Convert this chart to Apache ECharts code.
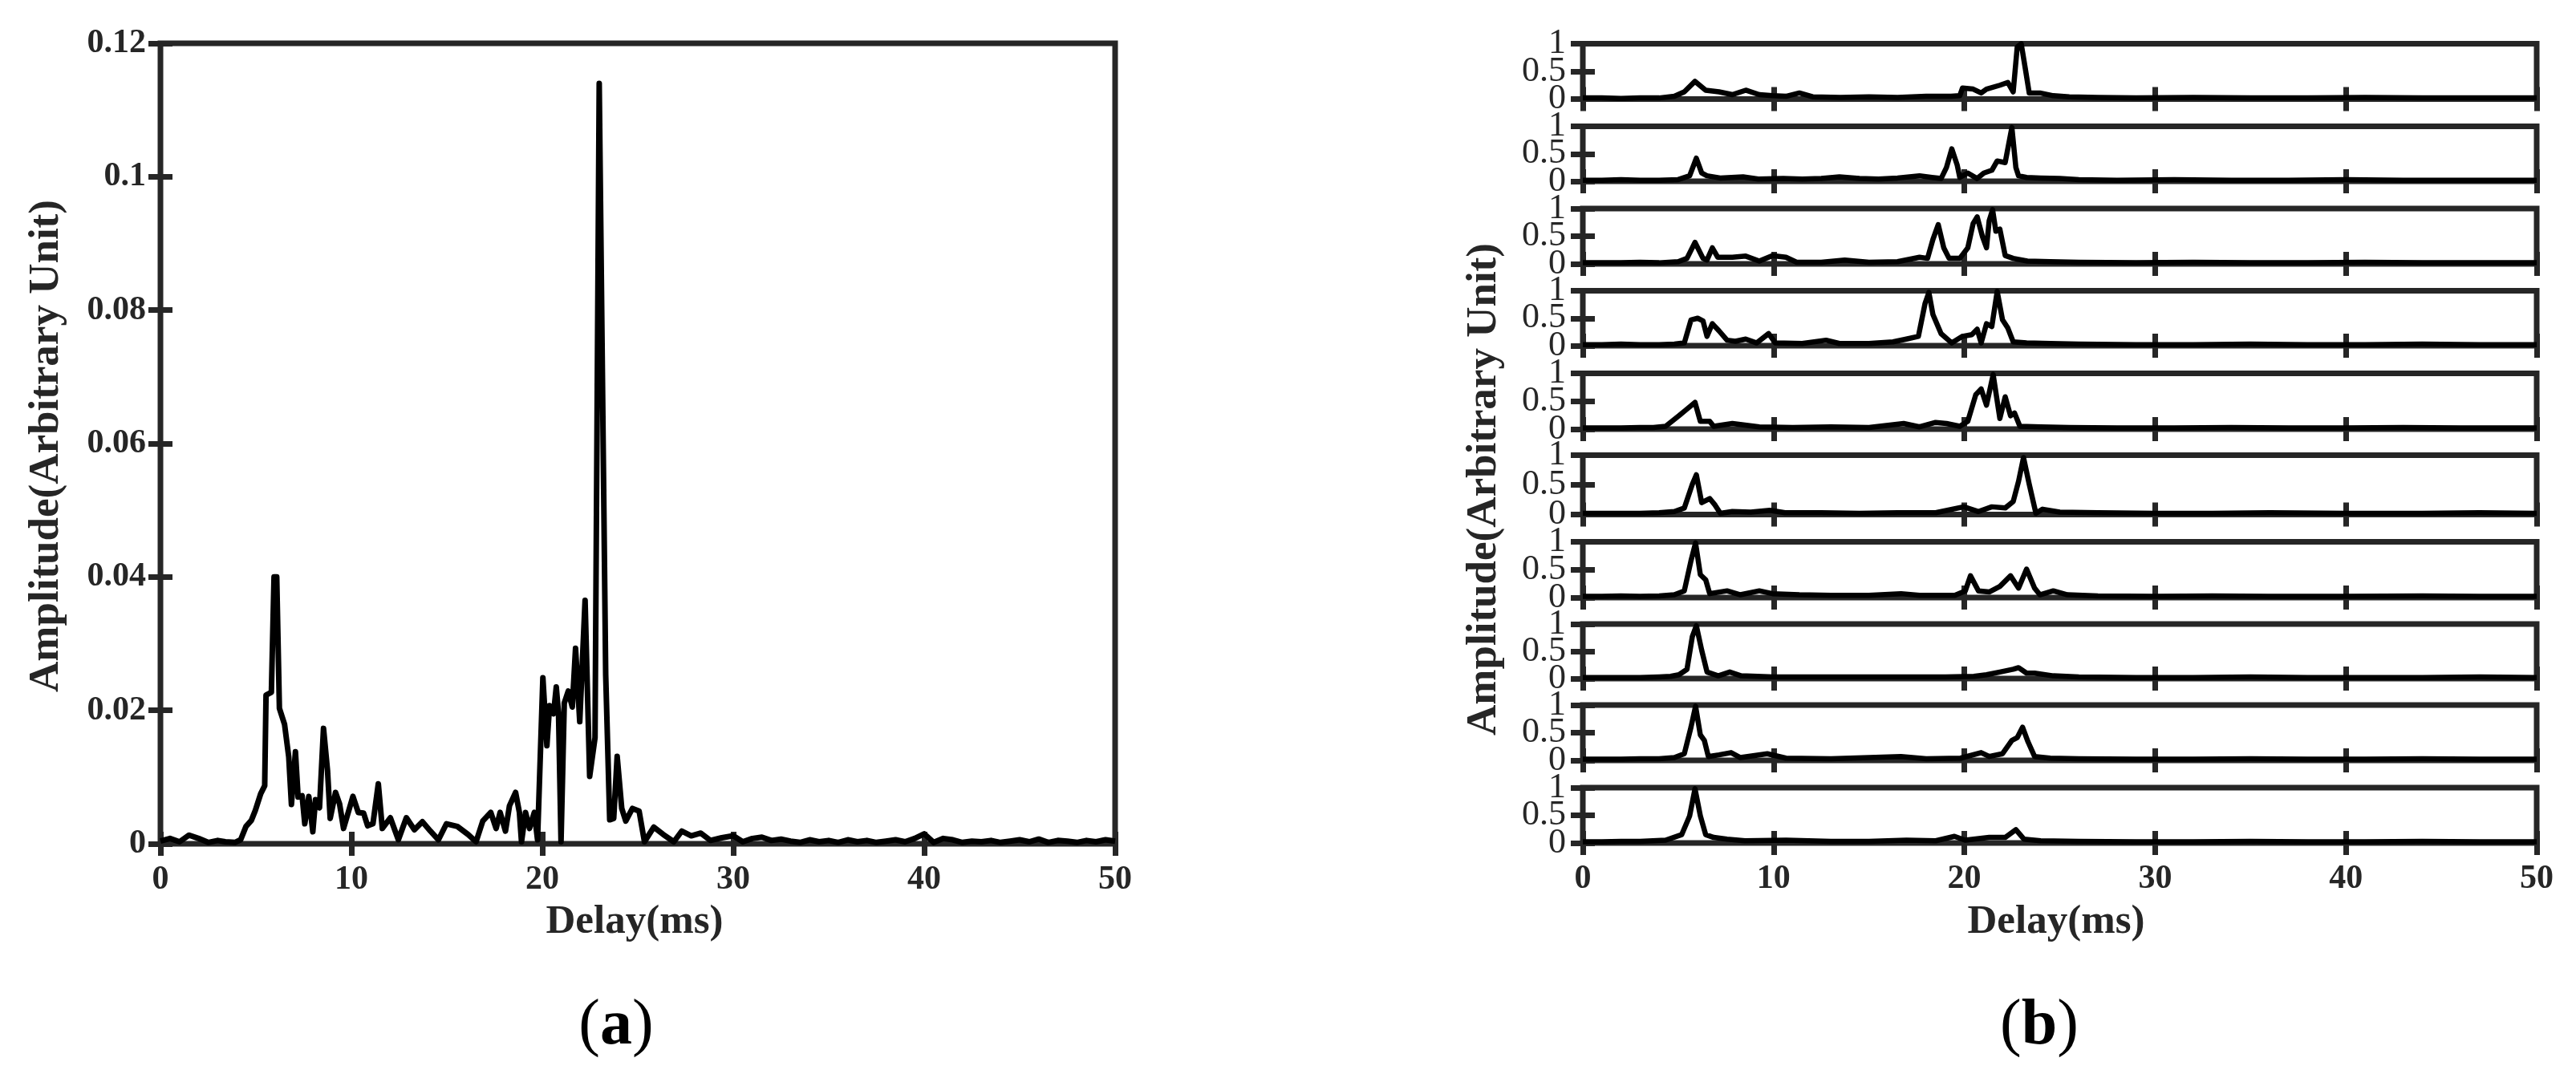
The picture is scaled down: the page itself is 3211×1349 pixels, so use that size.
<!DOCTYPE html>
<html>
<head>
<meta charset="utf-8">
<script src="https://cdn.jsdelivr.net/npm/echarts@6/dist/echarts.min.js"></script>
<style>
html,body{margin:0;padding:0;background:#fff;}
#chart{width:3211px;height:1349px;}
</style>
</head>
<body>
<div id="chart"></div>
<script>
// ---------- DATA ----------
// (a) single delay profile: [delay ms, amplitude]
const profileA = [
[0,0.0004],[0.5,0.0008],[1.0,0.0003],[1.5,0.0013],[2.0,0.0008],[2.5,0.0002],[3.0,0.0005],[3.4,0.0003],[3.9,0.0002],[4.2,0.0006],
[4.48,0.0026],[4.76,0.0035],[4.97,0.005],[5.25,0.0075],[5.46,0.0087],[5.53,0.0223],[5.81,0.0227],[5.95,0.040],[6.09,0.040],[6.23,0.0203],
[6.5,0.0179],[6.72,0.013],[6.86,0.0059],[7.07,0.0138],[7.21,0.007],[7.42,0.0072],[7.56,0.003],[7.77,0.0071],[7.98,0.0018],[8.12,0.0066],
[8.33,0.0054],[8.54,0.0173],[8.75,0.011],[8.89,0.0038],[9.17,0.0077],[9.38,0.006],[9.59,0.0023],[10.08,0.0071],[10.36,0.0047],[10.64,0.0046],
[10.85,0.0027],[11.13,0.003],[11.41,0.009],[11.62,0.0023],[12.04,0.0039],[12.46,0.0006],[12.88,0.0039],[13.3,0.0021],[13.72,0.0033],[14.14,0.0019],
[14.56,0.0006],[14.98,0.003],[15.55,0.0026],[16.11,0.0014],[16.53,0.0003],[16.88,0.0034],[17.3,0.0047],[17.58,0.0023],[17.79,0.0047],[18.07,0.0019],
[18.28,0.0057],[18.6,0.0077],[18.8,0.0047],[18.91,0.0003],[19.12,0.0047],[19.33,0.0023],[19.58,0.0047],[19.75,0.0006],[20.03,0.0249],[20.24,0.0147],
[20.38,0.0207],[20.59,0.0195],[20.73,0.0235],[20.85,0.0195],[20.98,0.0003],[21.15,0.0211],[21.36,0.0229],[21.57,0.0205],[21.74,0.0293],[21.96,0.0183],
[22.24,0.0365],[22.48,0.0101],[22.76,0.0159],[22.98,0.114],[23.32,0.0253],[23.53,0.0036],[23.74,0.0038],[23.92,0.0131],[24.16,0.0053],[24.37,0.0034],
[24.72,0.0053],[25.07,0.0049],[25.35,0.0003],[25.84,0.0025],[26.33,0.0014],[26.89,0.0003],[27.3,0.0019],[27.8,0.0012],[28.3,0.0016],[28.8,0.0005],
[29.4,0.0009],[30.0,0.0012],[30.5,0.0003],[31.0,0.0008],[31.5,0.0010],[32.0,0.0005],[32.5,0.0007],[33.0,0.0004],[33.5,0.0002],[34.0,0.0006],
[34.5,0.0003],[35.0,0.0005],[35.5,0.0002],[36.0,0.0006],[36.5,0.0003],[37.0,0.0005],[37.5,0.0002],[38.0,0.0004],[38.5,0.0006],[39.0,0.0003],
[39.5,0.0008],[40.0,0.0015],[40.5,0.0002],[41.0,0.0008],[41.5,0.0006],[42.0,0.0002],[42.5,0.0004],[43.0,0.0003],[43.5,0.0005],[44.0,0.0002],
[44.5,0.0004],[45.0,0.0006],[45.5,0.0003],[46.0,0.0007],[46.5,0.0002],[47.0,0.0005],[47.5,0.0004],[48.0,0.0002],[48.5,0.0005],[49.0,0.0003],
[49.5,0.0006],[50.0,0.0004]
];

// (b) ten normalised delay profiles, top to bottom
const traceB1 = [[0,0.02],[1,0.02],[2,0.01],[3,0.02],[4,0.02],[4.8,0.05],[5.32,0.13],[5.88,0.32],[6.44,0.16],[7.14,0.13],[7.84,0.08],[8.54,0.16],[9.25,0.08],[9.94,0.06],[10.65,0.05],[11.35,0.11],[12.05,0.04],[13.5,0.03],[15,0.04],[16.5,0.03],[18,0.05],[19.3,0.05],[19.76,0.06],[19.9,0.2],[20.46,0.18],[20.88,0.11],[21.16,0.18],[21.86,0.25],[22.28,0.3],[22.56,0.13],[22.77,0.94],[22.98,1.0],[23.19,0.56],[23.4,0.11],[23.96,0.11],[24.66,0.06],[25.5,0.04],[27,0.03],[29,0.02],[32,0.03],[35,0.02],[38,0.02],[41,0.03],[44,0.02],[47,0.02],[50,0.02]];
const traceB2 = [[0,0.02],[1,0.02],[2,0.03],[3,0.02],[4,0.02],[5,0.03],[5.6,0.1],[5.95,0.42],[6.23,0.15],[6.5,0.1],[7.2,0.06],[8.4,0.08],[9.2,0.04],[10.5,0.05],[11.5,0.04],[12.5,0.05],[13.45,0.08],[14.5,0.05],[15.5,0.04],[16.5,0.06],[17.65,0.1],[18.3,0.07],[18.78,0.05],[19.06,0.25],[19.34,0.59],[19.62,0.3],[19.76,0.07],[20.18,0.15],[20.67,0.05],[21.02,0.15],[21.44,0.2],[21.72,0.37],[22.14,0.34],[22.49,0.98],[22.7,0.25],[22.84,0.1],[23.26,0.07],[24,0.06],[25,0.05],[26,0.03],[28,0.02],[31,0.03],[34,0.02],[37,0.02],[40,0.03],[43,0.02],[46,0.02],[50,0.02]];
const traceB3 = [[0,0.02],[1,0.02],[2,0.02],[3,0.03],[4,0.02],[5,0.04],[5.46,0.1],[5.88,0.39],[6.3,0.1],[6.51,0.07],[6.79,0.29],[7.07,0.12],[7.84,0.12],[8.54,0.14],[9.25,0.05],[9.94,0.15],[10.65,0.12],[11.21,0.03],[12.5,0.03],[13.73,0.07],[15,0.03],[16.5,0.04],[17.65,0.12],[18.07,0.1],[18.35,0.44],[18.63,0.71],[18.92,0.29],[19.2,0.1],[19.76,0.1],[20.18,0.29],[20.46,0.73],[20.67,0.85],[20.95,0.49],[21.16,0.29],[21.3,0.78],[21.48,0.98],[21.65,0.59],[21.86,0.63],[22.14,0.15],[22.56,0.1],[23.3,0.05],[24.5,0.04],[26,0.03],[29,0.02],[32,0.03],[35,0.02],[38,0.02],[41,0.03],[44,0.02],[47,0.02],[50,0.02]];
const traceB4 = [[0,0.02],[1,0.02],[2,0.03],[3,0.02],[4,0.02],[4.8,0.03],[5.32,0.05],[5.67,0.47],[6.02,0.5],[6.3,0.45],[6.51,0.17],[6.79,0.4],[7.14,0.27],[7.56,0.1],[8.0,0.08],[8.54,0.12],[9.11,0.05],[9.74,0.22],[10.09,0.05],[11.5,0.04],[12.75,0.1],[13.45,0.04],[15,0.04],[16.26,0.07],[16.96,0.12],[17.59,0.17],[17.94,0.77],[18.14,0.97],[18.35,0.57],[18.78,0.22],[19.34,0.05],[19.9,0.17],[20.39,0.2],[20.67,0.3],[20.88,0.05],[21.16,0.4],[21.44,0.35],[21.72,0.99],[22.0,0.47],[22.28,0.32],[22.56,0.07],[23.26,0.05],[24.5,0.04],[26,0.03],[29,0.02],[32,0.02],[35,0.03],[38,0.02],[41,0.02],[44,0.03],[47,0.02],[50,0.02]];
const traceB5 = [[0,0.02],[1,0.02],[2,0.02],[3,0.03],[3.7,0.03],[4.34,0.05],[5.04,0.24],[5.39,0.34],[5.88,0.48],[6.16,0.14],[6.44,0.14],[6.65,0.14],[6.86,0.05],[7.84,0.1],[9.25,0.04],[11,0.03],[13,0.04],[15,0.03],[16.82,0.1],[17.65,0.04],[18.49,0.12],[19.06,0.1],[19.76,0.05],[20.18,0.14],[20.6,0.62],[20.88,0.72],[21.16,0.43],[21.51,0.98],[21.86,0.19],[22.14,0.58],[22.42,0.24],[22.63,0.29],[22.91,0.05],[24,0.04],[25.5,0.03],[28,0.02],[31,0.02],[34,0.03],[37,0.02],[40,0.02],[43,0.03],[46,0.02],[50,0.02]];
const traceB6 = [[0,0.02],[1,0.02],[2,0.02],[3,0.02],[4,0.03],[4.8,0.05],[5.32,0.11],[5.74,0.51],[5.95,0.67],[6.23,0.2],[6.65,0.27],[6.93,0.16],[7.21,0.02],[7.84,0.05],[8.8,0.04],[9.8,0.07],[10.6,0.03],[12.5,0.03],[14.5,0.02],[16.5,0.03],[18.5,0.03],[19.97,0.13],[20.74,0.05],[21.44,0.13],[22.14,0.11],[22.56,0.22],[22.84,0.56],[23.1,0.96],[23.4,0.51],[23.75,0.02],[24.1,0.09],[25,0.04],[27,0.03],[30,0.02],[33,0.02],[36,0.03],[40,0.02],[44,0.02],[47,0.03],[50,0.02]];
const traceB7 = [[0,0.02],[1,0.02],[2,0.03],[3,0.02],[4,0.03],[4.8,0.05],[5.32,0.12],[5.67,0.66],[5.91,0.98],[6.16,0.41],[6.44,0.32],[6.65,0.07],[7.56,0.12],[8.26,0.05],[9.25,0.12],[9.94,0.07],[11.35,0.05],[13,0.04],[15,0.04],[16.68,0.07],[17.65,0.04],[19.5,0.04],[20.05,0.12],[20.32,0.39],[20.74,0.12],[21.3,0.1],[21.86,0.2],[22.42,0.39],[22.84,0.17],[23.26,0.51],[23.68,0.17],[23.96,0.05],[24.66,0.12],[25.4,0.05],[27,0.03],[30,0.02],[33,0.03],[36,0.02],[40,0.02],[44,0.03],[47,0.02],[50,0.02]];
const traceB8 = [[0,0.02],[1,0.02],[2,0.02],[3,0.02],[4,0.03],[4.6,0.04],[5.04,0.07],[5.46,0.17],[5.74,0.77],[5.95,0.97],[6.23,0.52],[6.51,0.12],[7.1,0.05],[7.7,0.12],[8.3,0.05],[10,0.03],[13,0.03],[16,0.03],[19,0.03],[20.5,0.04],[21.16,0.07],[21.86,0.12],[22.56,0.17],[22.84,0.2],[23.26,0.1],[23.68,0.1],[24.66,0.05],[26,0.03],[29,0.02],[32,0.02],[35,0.03],[38,0.02],[41,0.02],[44,0.02],[47,0.03],[50,0.02]];
const traceB9 = [[0,0.02],[1,0.02],[2,0.02],[3,0.03],[4,0.03],[4.8,0.05],[5.32,0.12],[5.67,0.6],[5.91,0.98],[6.16,0.46],[6.37,0.36],[6.58,0.07],[7.14,0.1],[7.77,0.14],[8.26,0.05],[9.67,0.12],[10.65,0.04],[13,0.03],[16.68,0.07],[18,0.03],[19.8,0.04],[20.88,0.14],[21.3,0.07],[22.0,0.12],[22.49,0.36],[22.77,0.41],[23.05,0.6],[23.33,0.34],[23.68,0.07],[24.5,0.04],[26,0.03],[29,0.02],[32,0.02],[35,0.03],[38,0.02],[41,0.02],[44,0.03],[47,0.02],[50,0.02]];
const traceB10 = [[0,0.02],[1,0.02],[2,0.03],[3,0.03],[4.34,0.05],[5.18,0.15],[5.6,0.49],[5.88,0.98],[6.16,0.49],[6.44,0.15],[6.86,0.1],[7.56,0.07],[8.5,0.04],[10.65,0.05],[13,0.03],[15,0.03],[16.96,0.05],[18.5,0.04],[19.48,0.12],[20.04,0.05],[21.3,0.1],[22.14,0.1],[22.7,0.24],[23.12,0.07],[24,0.04],[26,0.03],[29,0.02],[32,0.02],[35,0.03],[38,0.02],[41,0.02],[44,0.03],[47,0.02],[50,0.02]];

const tracesB = [traceB1,traceB2,traceB3,traceB4,traceB5,traceB6,traceB7,traceB8,traceB9,traceB10];

const delayTicks = [0, 10, 20, 30, 40, 50];
const ampTicksA = [0, 0.02, 0.04, 0.06, 0.08, 0.1, 0.12];
const ampTicksB = [0, 0.5, 1];
const ampEndLabelsB = [0, 1];   // labels drawn on the main axis
const ampMidLabelsB = [0.5];    // label drawn on an overlay axis (so it is not hidden by overlap)
const xTitle = 'Delay(ms)';
const yTitle = 'Amplitude(Arbitrary Unit)';

// ---------- LAYOUT ----------
const FONT = '"Liberation Serif", "DejaVu Serif", serif';
const FRAME = '#262626';
const gridA = {left: 200, top: 54, width: 1190, height: 998};
const bLeft = 1973, bWidth = 1189;
const bTops =    [54.5, 157.5, 260, 362.5, 465.5, 567.5, 675.5, 778, 879, 982];
const bBottoms = [123.5, 226, 329, 431, 535, 641.5, 745, 846, 948, 1051];

const grids = [], xAxes = [], yAxes = [], series = [];

function yLabel(values, opt) {
  return {show: true, margin: opt.yMargin, fontSize: opt.yFont, fontFamily: FONT, fontWeight: opt.yWeight,
    color: '#262626', customValues: values, showMinLabel: true, showMaxLabel: true, hideOverlap: false,
    padding: [0,0,8,0]};
}

function addPanel(g, opt) {
  const gi = grids.length;
  grids.push({left: g.left, top: g.top, width: g.width, height: g.height, show: true,
    borderColor: FRAME, borderWidth: 7, backgroundColor: 'transparent'});
  const tickX = {show: true, inside: true, length: 15, customValues: delayTicks, lineStyle: {color: FRAME, width: 7}};
  const tickY = {show: true, inside: true, length: 15, customValues: opt.yTicks, lineStyle: {color: FRAME, width: 7}};
  const xCommon = {type: 'value', gridIndex: gi, min: delayTicks[0], max: delayTicks[delayTicks.length-1],
    interval: delayTicks[1]-delayTicks[0], axisLine: {show: false}, splitLine: {show: false}, axisTick: tickX};
  const xi = xAxes.length;
  xAxes.push(Object.assign({}, xCommon, {position: 'bottom',
    axisLabel: {show: opt.xLabels, margin: 24, fontSize: 42, fontFamily: FONT, fontWeight: 'bold', color: '#262626',
      customValues: delayTicks, showMinLabel: true, showMaxLabel: true, hideOverlap: false}}));
  xAxes.push(Object.assign({}, xCommon, {position: 'top', axisLabel: {show: false}}));
  const yCommon = {type: 'value', gridIndex: gi, min: opt.yTicks[0], max: opt.yTicks[opt.yTicks.length-1],
    interval: opt.yTicks[1]-opt.yTicks[0], axisLine: {show: false}, splitLine: {show: false}, axisTick: tickY};
  const yi = yAxes.length;
  yAxes.push(Object.assign({}, yCommon, {position: 'left', axisLabel: yLabel(opt.yLabels, opt)}));
  yAxes.push(Object.assign({}, yCommon, {position: 'right', axisLabel: {show: false}}));
  series.push({type: 'line', xAxisIndex: xi, yAxisIndex: yi, data: opt.data, showSymbol: false,
    symbol: 'none', clip: true, lineStyle: {color: '#000', width: opt.lw, join: 'round'}, z: 5, silent: true});

  if (opt.midLabels) {
    // invisible overlay grid on the same rectangle, carrying only the middle tick label
    const oi = grids.length;
    grids.push({left: g.left, top: g.top, width: g.width, height: g.height, show: false});
    xAxes.push({type: 'value', gridIndex: oi, min: delayTicks[0], max: delayTicks[delayTicks.length-1], show: false});
    yAxes.push({type: 'value', gridIndex: oi, min: opt.yTicks[0], max: opt.yTicks[opt.yTicks.length-1],
      interval: opt.yTicks[1]-opt.yTicks[0], position: 'left', axisLine: {show: false}, splitLine: {show: false},
      axisTick: {show: false}, axisLabel: yLabel(opt.midLabels, opt)});
  }
}

addPanel(gridA, {data: profileA, yTicks: ampTicksA, yLabels: ampTicksA, xLabels: true,
  yMargin: 18, lw: 7, yFont: 42, yWeight: 'bold'});
tracesB.forEach((tr, i) => {
  addPanel({left: bLeft, top: bTops[i], width: bWidth, height: bBottoms[i]-bTops[i]},
    {data: tr, yTicks: ampTicksB, yLabels: ampEndLabelsB, midLabels: ampMidLabelsB,
     xLabels: i === tracesB.length-1, yMargin: 21, lw: 6.5, yFont: 44, yWeight: 'normal'});
});

function txt(x, y, text, size, rot) {
  return {type: 'text', x: x, y: y, rotation: rot || 0, z: 10,
    style: {text: text, fontSize: size, fontFamily: FONT, fontWeight: 'bold', fill: '#262626',
      align: 'center', verticalAlign: 'middle'}};
}
function caption(x, y, letter) {
  return {type: 'text', x: x, y: y, z: 10, style: {
    text: '{p|(}{q|' + letter + '}{p|)}', align: 'center', verticalAlign: 'middle',
    rich: {p: {fontSize: 80, fontFamily: FONT, fill: '#000'},
           q: {fontSize: 80, fontFamily: FONT, fontWeight: 'bold', fill: '#000'}}}};
}

const chart = echarts.init(document.getElementById('chart'), null, {renderer: 'canvas'});
chart.setOption({
  animation: false,
  backgroundColor: '#ffffff',
  grid: grids,
  xAxis: xAxes,
  yAxis: yAxes,
  series: series,
  graphic: [
    txt(791, 1150, xTitle, 51),
    txt(2563, 1150, xTitle, 51),
    txt(58, 556, yTitle, 53, Math.PI/2),
    txt(1850, 610, yTitle, 53, Math.PI/2),
    caption(768, 1280, 'a'),
    caption(2542, 1280, 'b')
  ]
});
</script>
</body>
</html>
